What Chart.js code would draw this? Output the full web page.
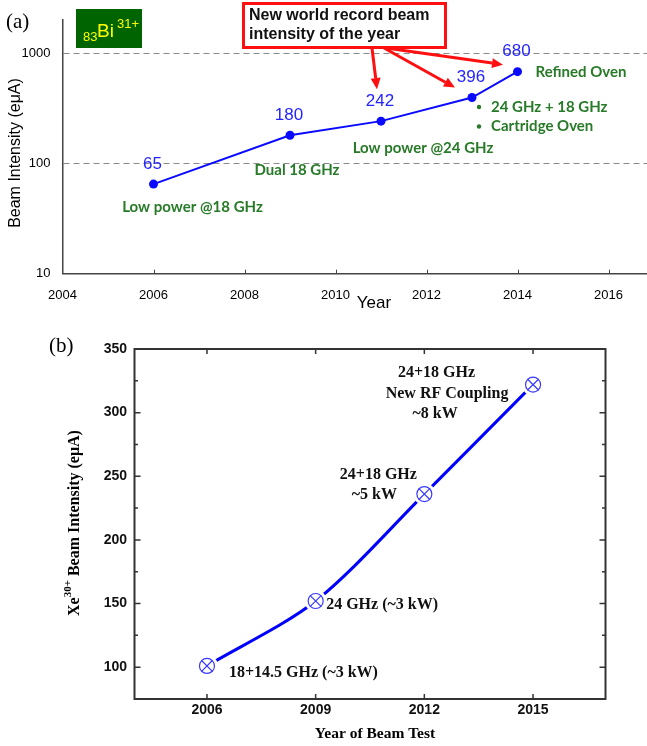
<!DOCTYPE html>
<html><head><meta charset="utf-8">
<script src="https://cdn.jsdelivr.net/npm/chart.js@4"></script>
<style>
html,body{margin:0;padding:0;width:647px;height:746px;overflow:hidden;background:#fff}
#wa{position:absolute;left:0;top:0;width:660px;height:320px}
#wb{position:absolute;left:0;top:320px;width:647px;height:426px}
</style></head><body>
<div id="wa"><canvas id="ca" width="660" height="320"></canvas></div>
<div id="wb"><canvas id="cb" width="647" height="426"></canvas></div>
<script>
// ---------- Panel (a) data ----------
const yearsA = [2006, 2009, 2011, 2013, 2014];
const intensityA = [65, 180, 242, 396, 680];
const xTicksA = [2004, 2006, 2008, 2010, 2012, 2014, 2016];
const yTicksA = [10, 100, 1000];
const notesA = [["Low power @18 GHz"], ["Dual 18 GHz"], ["Low power @24 GHz"], ["24 GHz + 18 GHz", "Cartridge Oven"], ["Refined Oven"]];
const recordText = ["New world record beam", "intensity of the year"];
const recordIdx = [2, 3, 4];

// ---------- Panel (b) data ----------
const yearsB = [2006, 2009, 2012, 2015];
const intensityB = [101, 152, 236, 322];
const xTicksB = [2006, 2009, 2012, 2015];
const yTicksB = [100, 150, 200, 250, 300, 350];
const notesB = [["18+14.5 GHz (~3 kW)"], ["24 GHz (~3 kW)"], ["24+18 GHz", "~5 kW"], ["24+18 GHz", "New RF Coupling", "~8 kW"]];

const SANS = '"Liberation Sans", Arial, sans-serif';
const SERIF = '"Liberation Serif", "Times New Roman", serif';
const GREEN_FONT = 'bold 15px Lato, "Open Sans", sans-serif';

function arrow(ctx, x1, y1, x2, y2) {
  const a = Math.atan2(y2 - y1, x2 - x1), L = 11, W = 5;
  const bx = x2 - L * Math.cos(a), by = y2 - L * Math.sin(a);
  ctx.beginPath(); ctx.moveTo(x1, y1); ctx.lineTo(bx, by); ctx.stroke();
  ctx.beginPath(); ctx.moveTo(x2, y2);
  ctx.lineTo(bx + W * Math.sin(a), by - W * Math.cos(a));
  ctx.lineTo(bx - W * Math.sin(a), by + W * Math.cos(a));
  ctx.closePath(); ctx.fill();
}

const annotA = {
  id: 'annotA',
  afterDraw(chart) {
    const { ctx, chartArea: ca, scales: { x, y } } = chart;
    ctx.save();
    // inner ticks on x axis
    ctx.strokeStyle = '#444'; ctx.lineWidth = 1;
    xTicksA.forEach(v => {
      if (v === xTicksA[0]) return;
      const px = Math.round(x.getPixelForValue(v)) + 0.5;
      ctx.beginPath(); ctx.moveTo(px, ca.bottom); ctx.lineTo(px, ca.bottom - 4); ctx.stroke();
    });
    const P = yearsA.map((yr, i) => ({ x: x.getPixelForValue(yr), y: y.getPixelForValue(intensityA[i]) }));
    // value labels
    ctx.fillStyle = '#2424ff'; ctx.font = '17px ' + SANS; ctx.textAlign = 'center'; ctx.textBaseline = 'middle';
    P.forEach((p, i) => ctx.fillText(String(intensityA[i]), p.x - 1, p.y - 20));
    // green notes
    ctx.fillStyle = '#277a27'; ctx.font = GREEN_FONT;
    const noteOff = [[39, 23, 'center'], [7, 34.5, 'center'], [42, 27, 'center'], [19, 9.5, 'left'], [18, 0, 'left']];
    notesA.forEach((lines, i) => {
      const [dx, dy, al] = noteOff[i];
      ctx.textAlign = al;
      lines.forEach((t, k) => {
        const yy = P[i].y + dy + k * 19.5;
        ctx.fillText(t, P[i].x + dx, yy);
        if (i === 3) { ctx.beginPath(); ctx.arc(P[i].x + 7, yy, 2.2, 0, Math.PI * 2); ctx.fill(); }
      });
    });
    // record arrows + box
    ctx.strokeStyle = '#ff1010'; ctx.fillStyle = '#ff1010'; ctx.lineWidth = 3;
    const starts = [[372, 48], [384, 48], [386, 48]];
    const ends = [[-4, -32], [-17, -10], [-14.5, -7]];
    recordIdx.forEach((idx, k) => arrow(ctx, starts[k][0], starts[k][1], P[idx].x + ends[k][0], P[idx].y + ends[k][1]));
    ctx.fillStyle = '#fff'; ctx.fillRect(243, 3, 203, 45);
    ctx.strokeRect(243.5, 3.5, 202, 44);
    ctx.fillStyle = '#111'; ctx.font = 'bold 16px ' + SANS; ctx.textAlign = 'left';
    ctx.fillText(recordText[0], 249, 16);
    ctx.fillText(recordText[1], 249, 35);
    // Bi box
    ctx.fillStyle = '#006400'; ctx.fillRect(76, 9, 66, 39);
    ctx.fillStyle = '#ffff00'; ctx.textBaseline = 'alphabetic';
    ctx.font = '13px ' + SANS; ctx.fillText('83', 83, 41);
    ctx.font = '19px ' + SANS; ctx.fillText('Bi', 97, 37);
    ctx.font = '13px ' + SANS; ctx.fillText('31+', 117, 28);
    // panel label + titles
    ctx.fillStyle = '#000'; ctx.textBaseline = 'middle';
    ctx.font = '21px ' + SERIF; ctx.textAlign = 'left'; ctx.fillText('(a)', 6, 22);
    ctx.font = '17px ' + SANS; ctx.textAlign = 'center'; ctx.fillText('Year', 374, 303);
    ctx.save(); ctx.translate(16, 153); ctx.rotate(-Math.PI / 2);
    ctx.font = '16px ' + SANS; ctx.fillText('Beam Intensity (eμA)', 0, 0); ctx.restore();
    ctx.restore();
  }
};

new Chart(document.getElementById('ca'), {
  type: 'line',
  data: { datasets: [{
    data: yearsA.map((x, i) => ({ x, y: intensityA[i] })),
    borderColor: '#0a0aff', borderWidth: 2, backgroundColor: '#0a0aff',
    pointRadius: 4.5, pointBorderWidth: 0, tension: 0
  }] },
  options: {
    responsive: false, animation: false, devicePixelRatio: 1,
    layout: { padding: { top: 20, right: 6, left: 0, bottom: 0 } },
    plugins: { legend: { display: false }, tooltip: { enabled: false } },
    scales: {
      x: {
        type: 'linear', min: 2004, max: 2017,
        afterBuildTicks: s => { s.ticks = xTicksA.map(v => ({ value: v })); },
        afterFit: s => { s.height = 46.3; },
        grid: { drawOnChartArea: false, drawTicks: false },
        border: { display: true, color: '#444', width: 1.5 },
        ticks: { padding: 13.5, font: { family: SANS, size: 13 }, color: '#000', callback: v => String(v), maxRotation: 0, autoSkip: false }
      },
      y: {
        type: 'logarithmic', min: 10, max: 2000,
        afterBuildTicks: s => { s.ticks = yTicksA.map(v => ({ value: v })); },
        afterFit: s => { s.width = 62.5; },
        grid: { color: c => (c.tick && c.tick.value === yTicksA[0]) ? 'rgba(0,0,0,0)' : '#8a8a8a', lineWidth: 1, drawTicks: false },
        border: { display: true, color: '#444', width: 1.5, dash: [6, 4] },
        ticks: { padding: 12, font: { family: SANS, size: 13 }, color: '#000', callback: v => String(v), autoSkip: false }
      }
    }
  },
  plugins: [annotA]
});

// ---------- Panel (b) ----------
const annotB = {
  id: 'annotB',
  afterDraw(chart) {
    const { ctx, chartArea: ca, scales: { x, y } } = chart;
    ctx.save();
    ctx.strokeStyle = '#333'; ctx.lineWidth = 2;
    ctx.strokeRect(ca.left, ca.top, ca.right - ca.left, ca.bottom - ca.top);
    ctx.lineWidth = 1.5;
    xTicksB.forEach(v => {
      const px = x.getPixelForValue(v);
      ctx.beginPath(); ctx.moveTo(px, ca.bottom); ctx.lineTo(px, ca.bottom - 5);
      ctx.moveTo(px, ca.top); ctx.lineTo(px, ca.top + 5); ctx.stroke();
    });
    for (let v = y.min + 25; v < y.max; v += 25) {
      const py = y.getPixelForValue(v);
      const L = (v % 50 === 0) ? 6 : 3.5;
      ctx.beginPath(); ctx.moveTo(ca.left, py); ctx.lineTo(ca.left + L, py);
      ctx.moveTo(ca.right, py); ctx.lineTo(ca.right - L, py); ctx.stroke();
    }
    const P = yearsB.map((yr, i) => ({ x: x.getPixelForValue(yr), y: y.getPixelForValue(intensityB[i]) }));
    ctx.fillStyle = '#111'; ctx.font = 'bold 16px ' + SERIF; ctx.textBaseline = 'middle';
    const offs = [
      [[22, 7, 'left']],
      [[10.5, 4, 'left']],
      [[-46, -19, 'center'], [-50, 1, 'center']],
      [[-96.5, -12, 'center'], [-86, 9, 'center'], [-98, 29, 'center']]
    ];
    notesB.forEach((lines, i) => lines.forEach((t, k) => {
      const [dx, dy, al] = offs[i][k];
      ctx.textAlign = al; ctx.fillText(t, P[i].x + dx, P[i].y + dy);
    }));
    // titles
    ctx.fillStyle = '#000';
    ctx.font = '21px ' + SERIF; ctx.textAlign = 'left'; ctx.fillText('(b)', 49, 26);
    ctx.font = 'bold 15.5px ' + SERIF; ctx.textAlign = 'center';
    ctx.fillText('Year of Beam Test', 375, 414);
    ctx.save(); ctx.translate(79, 296); ctx.rotate(-Math.PI / 2);
    ctx.textAlign = 'left'; ctx.textBaseline = 'alphabetic';
    ctx.font = 'bold 16px ' + SERIF; ctx.fillText('Xe', 0, 0);
    let w = ctx.measureText('Xe').width;
    ctx.font = 'bold 11px ' + SERIF; ctx.fillText('30+', w, -8);
    w += ctx.measureText('30+').width;
    ctx.font = 'bold 16px ' + SERIF; ctx.fillText(' Beam Intensity (eμA)', w, 0);
    ctx.restore();
    ctx.restore();
  }
};

const ptsB = yearsB.map((x, i) => ({ x, y: intensityB[i] }));
new Chart(document.getElementById('cb'), {
  type: 'line',
  data: { datasets: [
    { data: ptsB, borderColor: '#0000ff', borderWidth: 3, tension: 0.3,
      pointRadius: 11, pointBackgroundColor: '#fff', pointBorderWidth: 0, order: 3 },
    { data: ptsB, showLine: false, pointStyle: 'circle', pointRadius: 7.5,
      pointBorderColor: '#3a3aff', pointBackgroundColor: 'rgba(0,0,0,0)', pointBorderWidth: 1.2, order: 2 },
    { data: ptsB, showLine: false, pointStyle: 'crossRot', pointRadius: 8,
      pointBorderColor: '#3a3aff', pointBorderWidth: 1.2, order: 1 }
  ] },
  options: {
    responsive: false, animation: false, devicePixelRatio: 1,
    layout: { padding: { top: 29, right: 41.5, left: 0, bottom: 0 } },
    plugins: { legend: { display: false }, tooltip: { enabled: false } },
    scales: {
      x: {
        type: 'linear', min: 2004, max: 2017,
        afterBuildTicks: s => { s.ticks = xTicksB.map(v => ({ value: v })); },
        afterFit: s => { s.height = 47; },
        grid: { drawOnChartArea: false, drawTicks: false },
        border: { display: false },
        ticks: { padding: 2.6, font: { family: SANS, size: 14, weight: 'bold' }, color: '#111', callback: v => String(v), maxRotation: 0, autoSkip: false }
      },
      y: {
        type: 'linear', min: 75, max: 350,
        afterBuildTicks: s => { s.ticks = yTicksB.map(v => ({ value: v })); },
        afterFit: s => { s.width = 134.5; },
        grid: { drawOnChartArea: false, drawTicks: false },
        border: { display: false },
        ticks: { padding: 7.5, font: { family: SANS, size: 14, weight: 'bold' }, color: '#111', callback: v => String(v), autoSkip: false }
      }
    }
  },
  plugins: [annotB]
});
</script>
</body></html>
